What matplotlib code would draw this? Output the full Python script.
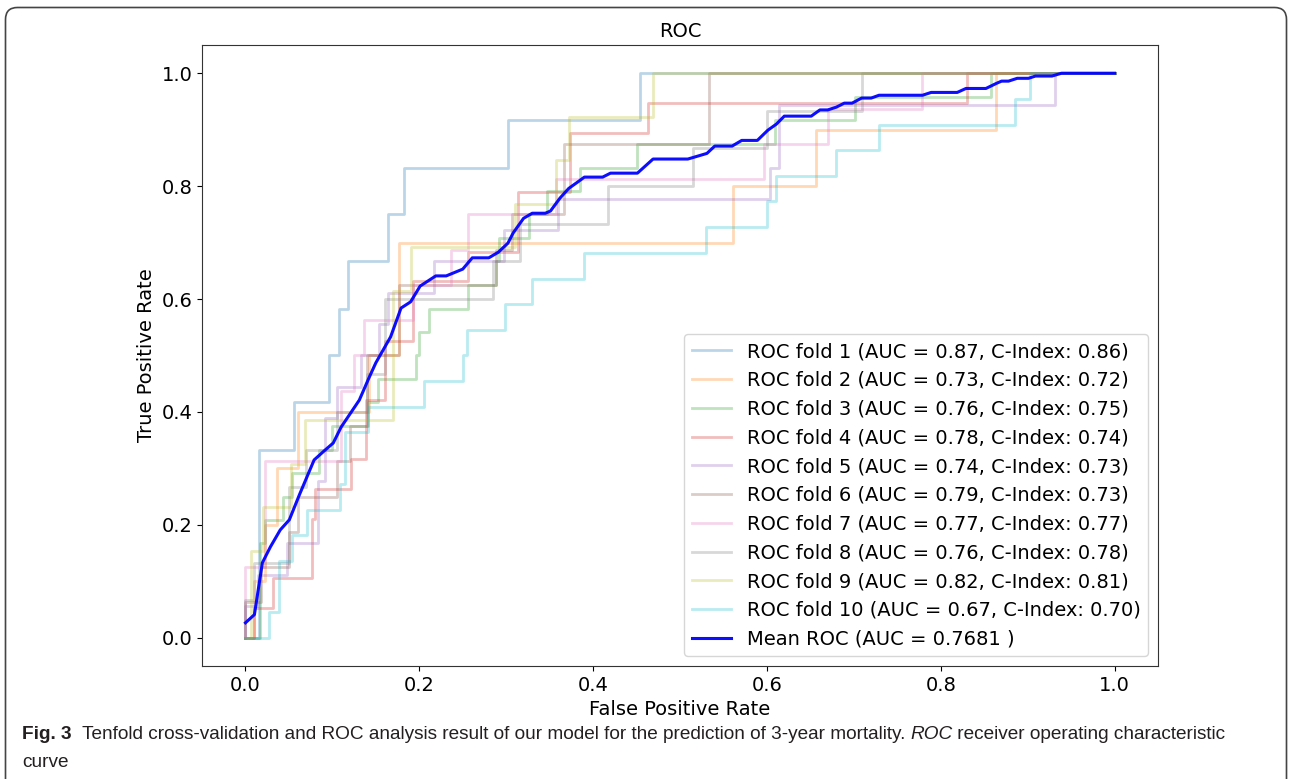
import numpy as np
import matplotlib
matplotlib.use("Agg")
import matplotlib.pyplot as plt
from matplotlib import font_manager
from matplotlib.patches import FancyBboxPatch
from matplotlib.transforms import IdentityTransform

# ROC corner points per fold (fpr where the step starts, tpr reached there)
fpr_1 = [0, 0.016, 0.056, 0.096, 0.108, 0.118, 0.164, 0.183, 0.302, 0.454, 1.0]
tpr_1 = [0, 0.333, 0.417, 0.5, 0.583, 0.667, 0.75, 0.833, 0.917, 1.0, 1.0]

fpr_2 = [0, 0.01, 0.022, 0.036, 0.061, 0.142, 0.177, 0.561, 0.657, 0.864, 1.0]
tpr_2 = [0, 0.1, 0.2, 0.3, 0.4, 0.5, 0.7, 0.8, 0.9, 1.0, 1.0]

fpr_3 = [0, 0.017, 0.023, 0.043, 0.054, 0.085, 0.1, 0.141, 0.152, 0.196, 0.2, 0.211,
         0.256, 0.288, 0.292, 0.326, 0.347, 0.385, 0.451, 0.609, 0.701, 0.858, 1.0]
tpr_3 = [0, 0.167, 0.208, 0.25, 0.292, 0.333, 0.375, 0.417, 0.458, 0.5, 0.542, 0.583,
         0.625, 0.667, 0.708, 0.75, 0.792, 0.833, 0.875, 0.917, 0.958, 1.0, 1.0]

fpr_4 = [0, 0.01, 0.032, 0.076, 0.08, 0.122, 0.139, 0.16, 0.193, 0.256, 0.314, 0.373, 0.463, 0.83, 1.0]
tpr_4 = [0, 0.053, 0.105, 0.211, 0.263, 0.316, 0.421, 0.526, 0.632, 0.684, 0.789, 0.895, 0.947, 1.0, 1.0]

fpr_5 = [0, 0, 0.014, 0.048, 0.083, 0.091, 0.105, 0.133, 0.154, 0.164, 0.217, 0.297, 0.36, 0.603, 0.614, 0.931, 1.0]
tpr_5 = [0, 0.056, 0.111, 0.167, 0.278, 0.389, 0.444, 0.5, 0.556, 0.611, 0.667, 0.722, 0.778, 0.833, 0.944, 1.0, 1.0]

fpr_6 = [0, 0, 0.018, 0.05, 0.06, 0.105, 0.12, 0.14, 0.177, 0.288, 0.307, 0.367, 0.533, 1.0]
tpr_6 = [0, 0.0625, 0.125, 0.1875, 0.25, 0.3125, 0.375, 0.5, 0.625, 0.6875, 0.75, 0.875, 1.0, 1.0]

fpr_7 = [0, 0, 0.022, 0.11, 0.125, 0.136, 0.193, 0.236, 0.256, 0.357, 0.597, 0.67, 0.779, 1.0]
tpr_7 = [0, 0.125, 0.3125, 0.4375, 0.5, 0.5625, 0.625, 0.6875, 0.75, 0.8125, 0.875, 0.9375, 1.0, 1.0]

fpr_8 = [0, 0, 0.01, 0.05, 0.07, 0.105, 0.14, 0.16, 0.285, 0.316, 0.417, 0.515, 0.6, 0.709, 1.0]
tpr_8 = [0, 0.067, 0.133, 0.267, 0.333, 0.4, 0.467, 0.6, 0.667, 0.733, 0.8, 0.867, 0.933, 1.0, 1.0]

fpr_9 = [0, 0.006, 0.02, 0.052, 0.068, 0.17, 0.191, 0.31, 0.357, 0.372, 0.469, 1.0]
tpr_9 = [0, 0.154, 0.231, 0.308, 0.385, 0.615, 0.692, 0.769, 0.846, 0.923, 1.0, 1.0]

fpr_10 = [0, 0.0275, 0.039, 0.054, 0.071, 0.109, 0.114, 0.141, 0.205, 0.25, 0.255, 0.299,
          0.33, 0.389, 0.53, 0.6, 0.611, 0.68, 0.729, 0.886, 0.9025, 1.0]
tpr_10 = [0, 0.045, 0.136, 0.182, 0.227, 0.273, 0.364, 0.409, 0.455, 0.5, 0.545, 0.591,
          0.636, 0.682, 0.727, 0.773, 0.818, 0.864, 0.909, 0.955, 1.0, 1.0]

fold_auc = [0.87, 0.73, 0.76, 0.78, 0.74, 0.79, 0.77, 0.76, 0.82, 0.67]
fold_cindex = [0.86, 0.72, 0.75, 0.74, 0.73, 0.73, 0.77, 0.78, 0.81, 0.70]

mean_fpr = [0.0, 0.0103, 0.0195, 0.0287, 0.040, 0.0505, 0.062, 0.079, 0.092, 0.101, 0.110,
            0.131, 0.142, 0.150, 0.167, 0.179, 0.190, 0.201, 0.219, 0.231, 0.250, 0.261,
            0.280, 0.291, 0.302, 0.308, 0.320, 0.330, 0.345, 0.351, 0.362, 0.372, 0.382,
            0.390, 0.411, 0.420, 0.451, 0.469, 0.509, 0.531, 0.540, 0.560, 0.571, 0.589,
            0.601, 0.611, 0.620, 0.651, 0.661, 0.670, 0.680, 0.689, 0.698, 0.709, 0.720,
            0.729, 0.779, 0.789, 0.819, 0.829, 0.852, 0.864, 0.870, 0.878, 0.888, 0.901,
            0.909, 0.928, 0.939, 1.0]
mean_tpr = [0.0265, 0.041, 0.133, 0.161, 0.191, 0.209, 0.253, 0.315, 0.333, 0.345, 0.373,
            0.421, 0.460, 0.487, 0.533, 0.584, 0.595, 0.623, 0.641, 0.641, 0.653, 0.673,
            0.673, 0.683, 0.699, 0.717, 0.743, 0.752, 0.752, 0.756, 0.779, 0.796, 0.807,
            0.816, 0.816, 0.823, 0.823, 0.848, 0.848, 0.858, 0.871, 0.871, 0.881, 0.881,
            0.899, 0.910, 0.924, 0.924, 0.935, 0.935, 0.940, 0.947, 0.947, 0.956, 0.956,
            0.961, 0.961, 0.966, 0.966, 0.973, 0.973, 0.982, 0.986, 0.986, 0.991, 0.991,
            0.995, 0.995, 1.0, 1.0]
mean_auc = 0.7681

fprs = [fpr_1, fpr_2, fpr_3, fpr_4, fpr_5, fpr_6, fpr_7, fpr_8, fpr_9, fpr_10]
tprs = [tpr_1, tpr_2, tpr_3, tpr_4, tpr_5, tpr_6, tpr_7, tpr_8, tpr_9, tpr_10]

W, H = 1290, 779
fig = plt.figure(figsize=(W / 100, H / 100), dpi=100)
ax = fig.add_axes([202 / W, 1 - 666 / H, (1158 - 202) / W, (666 - 45) / H])

for i in range(10):
    ax.plot(fprs[i], tprs[i], drawstyle="steps-post", lw=2, alpha=0.3,
            label="ROC fold %d (AUC = %0.2f, C-Index: %0.2f)" % (i + 1, fold_auc[i], fold_cindex[i]))
ax.plot(mean_fpr, mean_tpr, color="b", lw=2.2, alpha=0.95,
        label="Mean ROC (AUC = %0.4f )" % mean_auc)

ax.set_xlim(-0.05, 1.05)
ax.set_ylim(-0.05, 1.05)
ax.set_xticks([0, 0.2, 0.4, 0.6, 0.8, 1.0])
ax.set_yticks([0, 0.2, 0.4, 0.6, 0.8, 1.0])
ax.tick_params(labelsize=14)
for s in ax.spines.values():
    s.set_color("#333333")
ax.set_xlabel("False Positive Rate", fontsize=14)
ax.set_ylabel("True Positive Rate", fontsize=14)
ax.set_title("ROC", fontsize=14)
ax.legend(loc="lower right", fontsize=14)

# journal frame
fig.add_artist(FancyBboxPatch((5.5, -20), 1281, H - 7.5 + 20,
                              boxstyle="round,pad=0,rounding_size=12",
                              transform=IdentityTransform(), fill=False,
                              ec="#444444", lw=1.2))

# caption
names = {f.name for f in font_manager.fontManager.ttflist}
cap_font = "DejaVu Sans"
for cand in ["Liberation Sans Narrow", "Liberation Sans", "Open Sans"]:
    if cand in names:
        cap_font = cand
        break

line1 = [("Fig. 3", "bold", "normal"),
         ("  Tenfold cross-validation and ROC analysis result of our model for the prediction of 3-year mortality. ", "normal", "normal"),
         ("ROC", "normal", "italic"),
         (" receiver operating characteristic", "normal", "normal")]

fig.canvas.draw()
r = fig.canvas.get_renderer()


def place(fs):
    x = 22
    objs = []
    for txt, wt, st in line1:
        t = fig.text(x / W, (H - 739) / H, txt, fontsize=fs, fontweight=wt, fontstyle=st,
                     family=cap_font, color="#231f20", va="baseline")
        bb = t.get_window_extent(renderer=r)
        x = bb.x1
        objs.append(t)
    return objs, x


objs, xend = place(13)
fs = 13 * (1232 - 22) / (xend - 22)
for t in objs:
    t.remove()
objs, xend = place(fs)
fig.text(22 / W, (H - 767) / H, "curve", fontsize=fs, family=cap_font,
         color="#231f20", va="baseline")

fig.savefig("out.png", dpi=100)
